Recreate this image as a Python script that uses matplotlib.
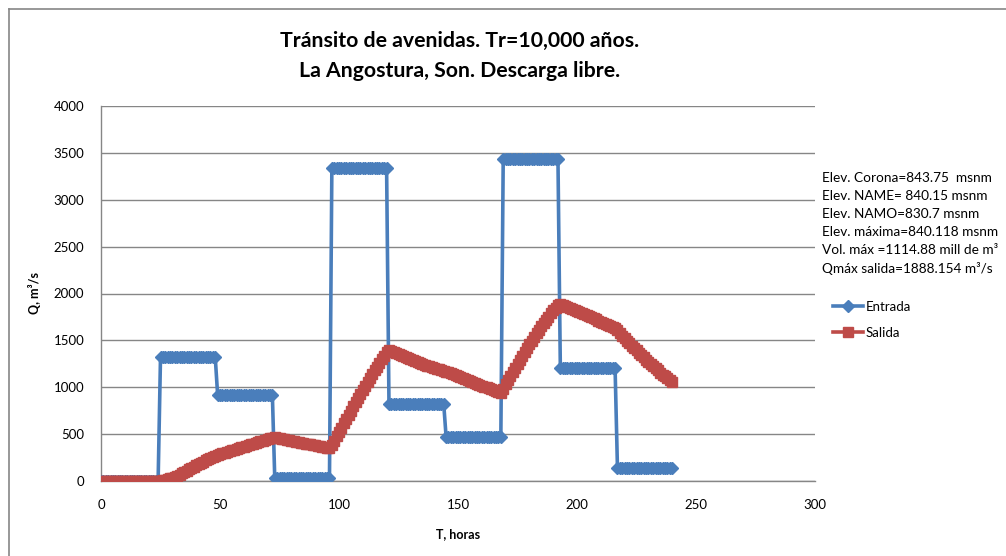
import numpy as np
import matplotlib
matplotlib.use("Agg")
import matplotlib.pyplot as plt
from matplotlib.lines import Line2D

plt.rcParams['font.family'] = ['Lato', 'DejaVu Sans']

# ---- data ----
horas = list(range(0, 241))
# inflow hydrograph: one level per 24-hour block (hours 1-24, 25-48, ...)
entrada_bloques = [0, 1320, 921, 36, 3340, 821, 471, 3435, 1204, 135]
entrada = [0] + list(np.repeat(entrada_bloques, 24))

salida = [0] * 25 + [
    2, 6, 12, 19, 27, 36, 46, 57, 69, 82, 96, 110,
    124, 138, 152, 166, 180, 194, 208, 222, 235, 248, 260, 272,
    280, 288, 296, 304, 312, 320, 328, 336, 344, 352, 360, 368,
    376, 384, 392, 400, 408, 416, 424, 432, 440, 448, 456, 463,
    465, 460, 455, 450, 445, 440, 435, 430, 425, 420, 415, 410,
    405, 400, 395, 390, 385, 380, 375, 370, 365, 360, 355, 350,
    385, 430, 476, 522, 568, 614, 660, 705, 750, 795, 840, 884,
    928, 971, 1014, 1056, 1098, 1139, 1180, 1220, 1260, 1298, 1336, 1372,
    1400, 1388, 1376, 1364, 1352, 1341, 1330, 1319, 1308, 1298, 1288, 1278,
    1268, 1259, 1250, 1241, 1232, 1224, 1216, 1208, 1200, 1192, 1184, 1177,
    1168, 1158, 1148, 1138, 1128, 1118, 1108, 1098, 1088, 1078, 1068, 1058,
    1048, 1038, 1028, 1018, 1008, 998, 988, 978, 968, 958, 948, 938,
    985, 1030, 1075, 1119, 1163, 1207, 1250, 1293, 1335, 1376, 1417, 1457,
    1497, 1536, 1574, 1612, 1649, 1685, 1720, 1754, 1787, 1819, 1850, 1880,
    1888, 1877, 1866, 1855, 1844, 1833, 1822, 1811, 1800, 1789, 1778, 1767,
    1756, 1745, 1734, 1723, 1712, 1701, 1690, 1679, 1668, 1657, 1646, 1635,
    1608, 1580, 1552, 1525, 1498, 1471, 1445, 1419, 1393, 1368, 1343, 1318,
    1294, 1270, 1247, 1224, 1201, 1179, 1157, 1136, 1115, 1094, 1074, 1055,
]

x_ticks = [0, 50, 100, 150, 200, 250, 300]
y_ticks = [0, 500, 1000, 1500, 2000, 2500, 3000, 3500, 4000]

titulo = "Tránsito de avenidas. Tr=10,000 años.\nLa Angostura, Son. Descarga libre."
notas = [
    "Elev. Corona=843.75  msnm",
    "Elev. NAME= 840.15 msnm",
    "Elev. NAMO=830.7 msnm",
    "Elev. máxima=840.118 msnm",
    "Vol. máx =1114.88 mill de m³",
    "Qmáx salida=1888.154 m³/s",
]

# ---- figure ----
W, H = 1006, 556
fig = plt.figure(figsize=(W / 100, H / 100), dpi=100)
fig.patch.set_facecolor('white')

L, R, T, B = 101, 815, 106, 481
ax = fig.add_axes([L / W, 1 - B / H, (R - L) / W, (B - T) / H])

azul = '#4A7EBB'
rojo = '#BE4B48'
grid = '#868686'

ax.plot(horas, entrada, color=azul, lw=2.6, marker='D', ms=6.5,
        mec=azul, mfc=azul, label='Entrada', zorder=3)
ax.plot(horas, salida, color=rojo, lw=2.6, marker='s', ms=7,
        mec=rojo, mfc=rojo, label='Salida', zorder=4)

ax.set_xlim(0, 300)
ax.set_ylim(0, 4000)
ax.set_xticks(x_ticks)
ax.set_yticks(y_ticks)
ax.yaxis.grid(True, color=grid, lw=1.0)
ax.set_axisbelow(True)
for s in ['top', 'right']:
    ax.spines[s].set_visible(False)
for s in ['left', 'bottom']:
    ax.spines[s].set_color(grid)
    ax.spines[s].set_linewidth(1.0)
ax.tick_params(axis='both', length=0, labelsize=9.5, colors='black')
ax.tick_params(axis='y', pad=12)
ax.tick_params(axis='x', pad=13)
for lab in ax.get_xticklabels() + ax.get_yticklabels():
    lab.set_clip_on(False)

ax.set_xlabel('T, horas', fontsize=9, fontweight='bold', labelpad=12)
ax.set_ylabel('Q, m³/s', fontsize=9, fontweight='bold', labelpad=9)

fig.text(460 / W, 1 - 56 / H, titulo, ha='center', va='center',
         fontsize=15.3, fontweight='bold', linespacing=1.6)

for i, t in enumerate(notas):
    fig.text(822 / W, 1 - (178 + i * 18.1) / H, t, ha='left', va='center',
             fontsize=9.8)

handles = [
    Line2D([], [], color=azul, lw=2.6, marker='D', ms=6.5, mec=azul, mfc=azul),
    Line2D([], [], color=rojo, lw=2.6, marker='s', ms=7, mec=rojo, mfc=rojo),
]
fig.legend(handles, ['Entrada', 'Salida'], loc='center left',
           bbox_to_anchor=(833 / W, 1 - 320 / H), frameon=False,
           fontsize=9.5, handlelength=2.25, handletextpad=0.2,
           labelspacing=1.05, numpoints=1, borderaxespad=0, borderpad=0)

# outer chart border (top and left visible)
fig.add_artist(Line2D([9 / W, 9 / W], [0, 1 - 9 / H], color=grid, lw=1.2,
                      transform=fig.transFigure))
fig.add_artist(Line2D([9 / W, 1], [1 - 9 / H, 1 - 9 / H], color=grid, lw=1.2,
                      transform=fig.transFigure))

fig.savefig('out.png', dpi=100, facecolor='white')
